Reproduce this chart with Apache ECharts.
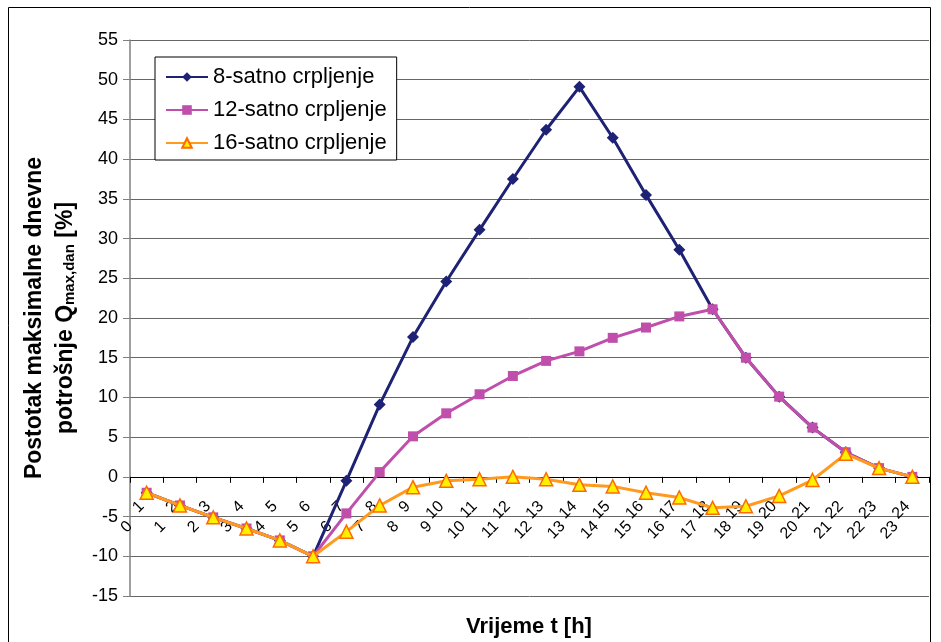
<!DOCTYPE html>
<html>
<head>
<meta charset="utf-8">
<script src="https://cdn.jsdelivr.net/npm/echarts@6/dist/echarts.min.js"></script>
<style>html,body{margin:0;padding:0;background:#fff}#c{width:941px;height:642px}</style>
</head>
<body>
<div id="c"></div>
<script>
const hours = ['1','2','3','4','5','6','7','8','9','10','11','12','13','14','15','16','17','18','19','20','21','22','23','24'];
const boundaryLabels = ['0','1','2','3','4','5','6','7','8','9','10','11','12','13','14','15','16','17','18','19','20','21','22','23',''];
const seriesNames = ['8-satno crpljenje','12-satno crpljenje','16-satno crpljenje'];
const s8  = [-2,-3.6,-5.1,-6.5,-8,-10,-0.5,9.1,17.6,24.6,31.1,37.5,43.7,49.1,42.7,35.5,28.6,21.1,15,10.1,6.2,3.1,1.1,0];
const s12 = [-2,-3.6,-5.1,-6.5,-8,-10,-4.6,0.6,5.1,8,10.4,12.7,14.6,15.8,17.5,18.8,20.2,21.1,15,10.1,6.2,3.1,1.1,0];
const s16 = [-2,-3.6,-5.1,-6.5,-8,-10,-6.9,-3.6,-1.3,-0.5,-0.3,0,-0.3,-1,-1.2,-2,-2.6,-3.9,-3.7,-2.4,-0.4,2.9,1.1,0];
const yMin = -15, yMax = 55, yStep = 5;

const FONT = 'Liberation Sans, Arial, sans-serif';
const W = 941, H = 642;
const gridTop = 40, gridBottom = 46, gridLeft = 130, gridRight = 12;
const gridH = H - gridTop - gridBottom;
// distance (px) from the grid bottom edge up to the y = 0 line
const zeroOffset = -(gridH * (0 - yMin) / (yMax - yMin));

const chart = echarts.init(document.getElementById('c'), null, {renderer:'canvas'});
chart.setOption({
  animation: false,
  textStyle: {fontFamily: FONT},
  grid: {left: gridLeft, right: gridRight, top: gridTop, bottom: gridBottom, containLabel: false, outerBoundsMode: 'none'},
  title: {
    text: 'Vrijeme t [h]', left: 466, top: 616, padding: 0,
    textStyle: {fontFamily: FONT, fontSize: 22, fontWeight: 'bold', color: '#000'}
  },
  legend: {
    left: 155, top: 57, orient: 'vertical',
    backgroundColor: '#fff', borderColor: '#000', borderWidth: 1,
    padding: [9, 10, 6, 10], itemGap: 11, itemWidth: 42, itemHeight: 12,
    textStyle: {fontFamily: FONT, fontSize: 22, color: '#000'},
    data: seriesNames
  },
  xAxis: [{
    type: 'category', data: hours, boundaryGap: true, position: 'bottom', offset: zeroOffset,
    axisLine: {onZero: false, lineStyle: {color: '#000', width: 1}},
    axisTick: {show: true, length: 6, lineStyle: {color: '#000'}},
    axisLabel: {interval: 0, rotate: 45, margin: 22, padding: [0, 7, 0, 0], fontSize: 16, color: '#000', fontFamily: FONT},
    splitLine: {show: false}
  }, {
    type: 'category', data: boundaryLabels, boundaryGap: false, position: 'bottom', offset: zeroOffset,
    axisLine: {show: false, onZero: false},
    axisTick: {show: false},
    axisLabel: {interval: 0, rotate: 45, margin: 47, fontSize: 16, color: '#000', fontFamily: FONT},
    splitLine: {show: false}
  }],
  yAxis: {
    type: 'value', min: yMin, max: yMax, interval: yStep,
    axisLine: {show: true, lineStyle: {color: '#808080', width: 1.5}},
    axisTick: {show: true, length: 7, lineStyle: {color: '#808080'}},
    axisLabel: {fontSize: 18, color: '#000', margin: 12, fontFamily: FONT},
    splitLine: {show: true, lineStyle: {color: '#666', width: 1}},
    name: '{t|Postotak maksimalne dnevne}\n{t|potrošnje Q}{s|max,dan}{t| [%]}',
    nameLocation: 'middle', nameRotate: 90, nameGap: 49,
    nameTextStyle: {
      fontFamily: FONT, color: '#000', lineHeight: 31,
      rich: {
        t: {fontSize: 23, fontWeight: 'bold', fontFamily: FONT, color: '#000', lineHeight: 31},
        s: {fontSize: 15, fontWeight: 'bold', fontFamily: FONT, color: '#000', lineHeight: 31, padding: [9, 0, 0, 0]}
      }
    }
  },
  graphic: [{
    type: 'rect', shape: {x: 8.5, y: 7.5, width: 922, height: 660},
    style: {fill: 'none', stroke: '#000', lineWidth: 1}, silent: true, z: -1
  }],
  series: [{
    name: seriesNames[0], type: 'line', data: s8, xAxisIndex: 0,
    symbol: 'diamond', symbolSize: 12,
    lineStyle: {color: '#1E2275', width: 3},
    itemStyle: {color: '#1E2275'}, z: 2
  }, {
    name: seriesNames[1], type: 'line', data: s12, xAxisIndex: 0,
    symbol: 'rect', symbolSize: 10,
    lineStyle: {color: '#C04FAC', width: 3},
    itemStyle: {color: '#C04FAC'}, z: 3
  }, {
    name: seriesNames[2], type: 'line', data: s16, xAxisIndex: 0,
    symbol: 'triangle', symbolSize: 13,
    lineStyle: {color: '#FF9A1F', width: 3},
    itemStyle: {color: '#FFF000', borderColor: '#FF6A00', borderWidth: 1.5}, z: 4
  }]
});
</script>
</body>
</html>
